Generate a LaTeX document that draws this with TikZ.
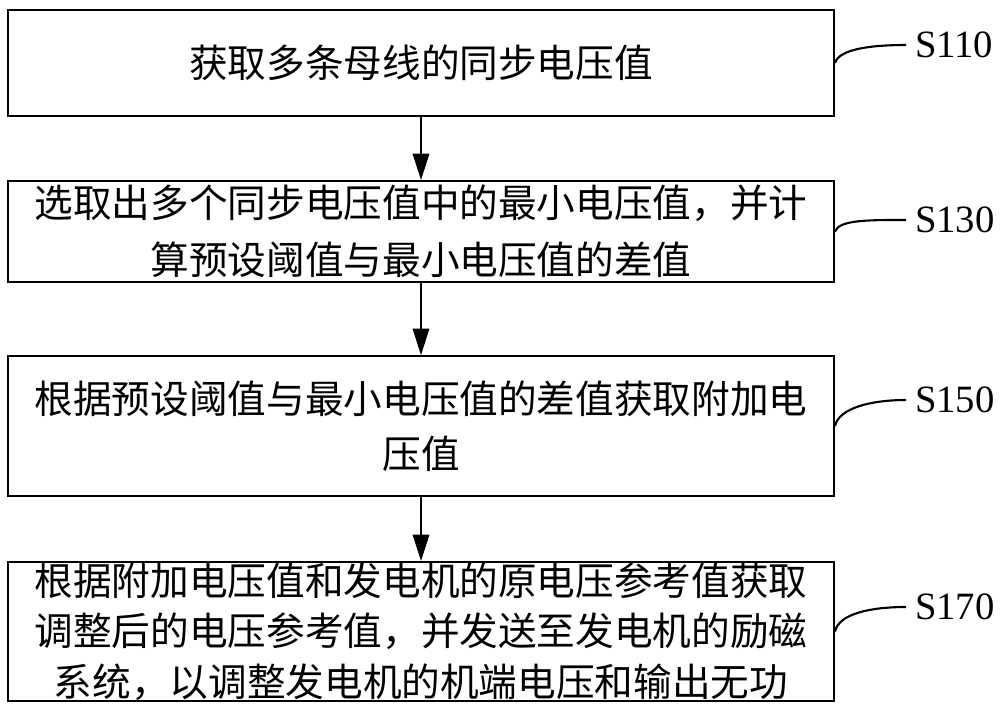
\documentclass[tikz,border=0pt]{standalone}
\usepackage{fontspec}
\setmainfont{Liberation Serif}
\newfontfamily\cjk{Noto Sans CJK SC}
\usetikzlibrary{arrows.meta}
\begin{document}
\begin{tikzpicture}[x=0.02cm,y=-0.02cm,
  stepbox/.style={draw,line width=1.2pt,minimum width=16.52cm,text width=16cm,align=center,inner sep=0pt},
  lab/.style={font=\fontsize{22pt}{26pt}\selectfont,inner xsep=5pt,inner ysep=0pt,anchor=west},
  flow/.style={-{Triangle[length=15pt,width=9.5pt]},line width=0.6pt},
  lead/.style={line width=1.2pt}]
\useasboundingbox (0,0) rectangle (1000,710);
\node[stepbox,minimum height=2.13cm,font=\cjk\fontsize{22pt}{32pt}\selectfont] (b1) at (421,63) {获取多条母线的同步电压值};
\node[stepbox,minimum height=2.02cm,font=\cjk\fontsize{22pt}{32.3pt}\selectfont] (b2) at (421,231.5) {选取出多个同步电压值中的最小电压值，并计\\算预设阈值与最小电压值的差值};
\node[stepbox,minimum height=2.8cm,font=\cjk\fontsize{22pt}{31.2pt}\selectfont] (b3) at (421,426) {根据预设阈值与最小电压值的差值获取附加电\\压值};
\node[stepbox,minimum height=2.78cm,font=\cjk\fontsize{22pt}{28.6pt}\selectfont] (b4) at (421,631.5) {根据附加电压值和发电机的原电压参考值获取\\调整后的电压参考值，并发送至发电机的励磁\\系统，以调整发电机的机端电压和输出无功};
\node[lab] (l1) at (906,45) {S110};
\node[lab] (l2) at (906,220) {S130};
\node[lab] (l3) at (906,400) {S150};
\node[lab] (l4) at (906,607) {S170};
\draw[flow] (b1.south) -- (b2.north);
\draw[flow] (b2.south) -- (b3.north);
\draw[flow] (b3.south) -- (b4.north);
\draw[lead] (b1.east) .. controls +(4,-14) and +(-35,0) .. (l1.west);
\draw[lead] (b2.east) .. controls +(4,-12) and +(-35,0) .. (l2.west);
\draw[lead] (b3.east) .. controls +(4,-18) and +(-35,0) .. (l3.west);
\draw[lead] (b4.east) .. controls +(4,-18) and +(-35,0) .. (l4.west);
\end{tikzpicture}
\end{document}
